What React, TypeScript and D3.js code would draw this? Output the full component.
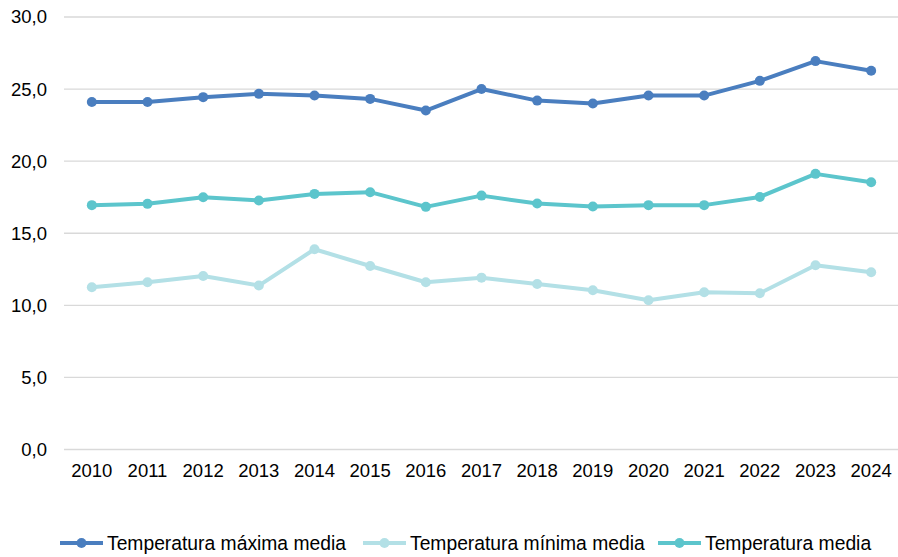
import { useEffect, useRef } from 'react'
import * as d3 from 'd3'

const years = ['2010', '2011', '2012', '2013', '2014', '2015', '2016', '2017', '2018', '2019', '2020', '2021', '2022', '2023', '2024']
const tempMax = [24.1, 24.1, 24.44, 24.67, 24.55, 24.32, 23.51, 25.0, 24.2, 24.0, 24.55, 24.55, 25.57, 26.94, 26.27]
const tempMin = [11.26, 11.6, 12.04, 11.37, 13.89, 12.73, 11.6, 11.92, 11.48, 11.05, 10.35, 10.91, 10.84, 12.78, 12.3]
const tempMedia = [16.95, 17.04, 17.5, 17.27, 17.73, 17.85, 16.83, 17.61, 17.06, 16.85, 16.95, 16.95, 17.52, 19.12, 18.54]
const yTicks = [0, 5, 10, 15, 20, 25, 30]

const series = [
  { name: 'Temperatura máxima media', values: tempMax, color: '#4a7ebf' },
  { name: 'Temperatura mínima media', values: tempMin, color: '#b3e0e6' },
  { name: 'Temperatura media', values: tempMedia, color: '#5cc5cc' },
]

const FONT = '"Liberation Sans", Arial, sans-serif'

export default function App() {
  const svgRef = useRef<SVGSVGElement>(null)

  useEffect(() => {
    const svg = d3.select(svgRef.current)
    svg.selectAll('*').remove()

    const left = 64
    const right = 899
    const top = 17
    const bottom = 449.5

    const xScale = d3.scaleBand().domain(years).range([left, right])
    const yScale = d3.scaleLinear().domain([0, 30]).range([bottom, top])
    const xc = (d: string) => (xScale(d) as number) + xScale.bandwidth() / 2

    // grid
    svg.append('g')
      .selectAll('line')
      .data(yTicks)
      .join('line')
      .attr('x1', left)
      .attr('x2', right)
      .attr('y1', d => yScale(d))
      .attr('y2', d => yScale(d))
      .attr('stroke', '#d9d9d9')
      .attr('stroke-width', 1.3)

    // y labels
    svg.append('g')
      .selectAll('text')
      .data(yTicks)
      .join('text')
      .attr('x', 47)
      .attr('y', d => yScale(d))
      .attr('dy', '0.35em')
      .attr('text-anchor', 'end')
      .attr('font-family', FONT)
      .attr('font-size', 18.5)
      .attr('fill', '#000')
      .text(d => d.toFixed(1).replace('.', ','))

    // x labels
    svg.append('g')
      .selectAll('text')
      .data(years)
      .join('text')
      .attr('x', d => xc(d))
      .attr('y', 471)
      .attr('dy', '0.35em')
      .attr('text-anchor', 'middle')
      .attr('font-family', FONT)
      .attr('font-size', 18.5)
      .attr('fill', '#000')
      .text(d => d)

    const line = d3.line<number>()
      .x((v, i) => xc(years[i]))
      .y(v => yScale(v))

    series.forEach(s => {
      const g = svg.append('g')
      g.append('path')
        .attr('d', line(s.values))
        .attr('fill', 'none')
        .attr('stroke', s.color)
        .attr('stroke-width', 4)
        .attr('stroke-linejoin', 'round')
      g.selectAll('circle')
        .data(s.values)
        .join('circle')
        .attr('cx', (v, i) => xc(years[i]))
        .attr('cy', v => yScale(v))
        .attr('r', 5)
        .attr('fill', s.color)
    })

    // legend
    const legendX = [60, 363, 658]
    const ly = 543
    series.forEach((s, i) => {
      const g = svg.append('g').attr('transform', `translate(${legendX[i]},${ly})`)
      g.append('line')
        .attr('x1', 0).attr('x2', 43).attr('y1', 0).attr('y2', 0)
        .attr('stroke', s.color).attr('stroke-width', 4)
      g.append('circle').attr('cx', 21.5).attr('cy', 0).attr('r', 5).attr('fill', s.color)
      g.append('text')
        .attr('x', 47)
        .attr('y', 0)
        .attr('dy', '0.35em')
        .attr('font-family', FONT)
        .attr('font-size', 19.3)
        .attr('fill', '#000')
        .text(s.name)
    })
  }, [])

  return (
    <svg
      ref={svgRef}
      width={898}
      height={557}
      style={{ position: 'absolute', left: 0, top: 0, background: '#fff' }}
    />
  )
}
